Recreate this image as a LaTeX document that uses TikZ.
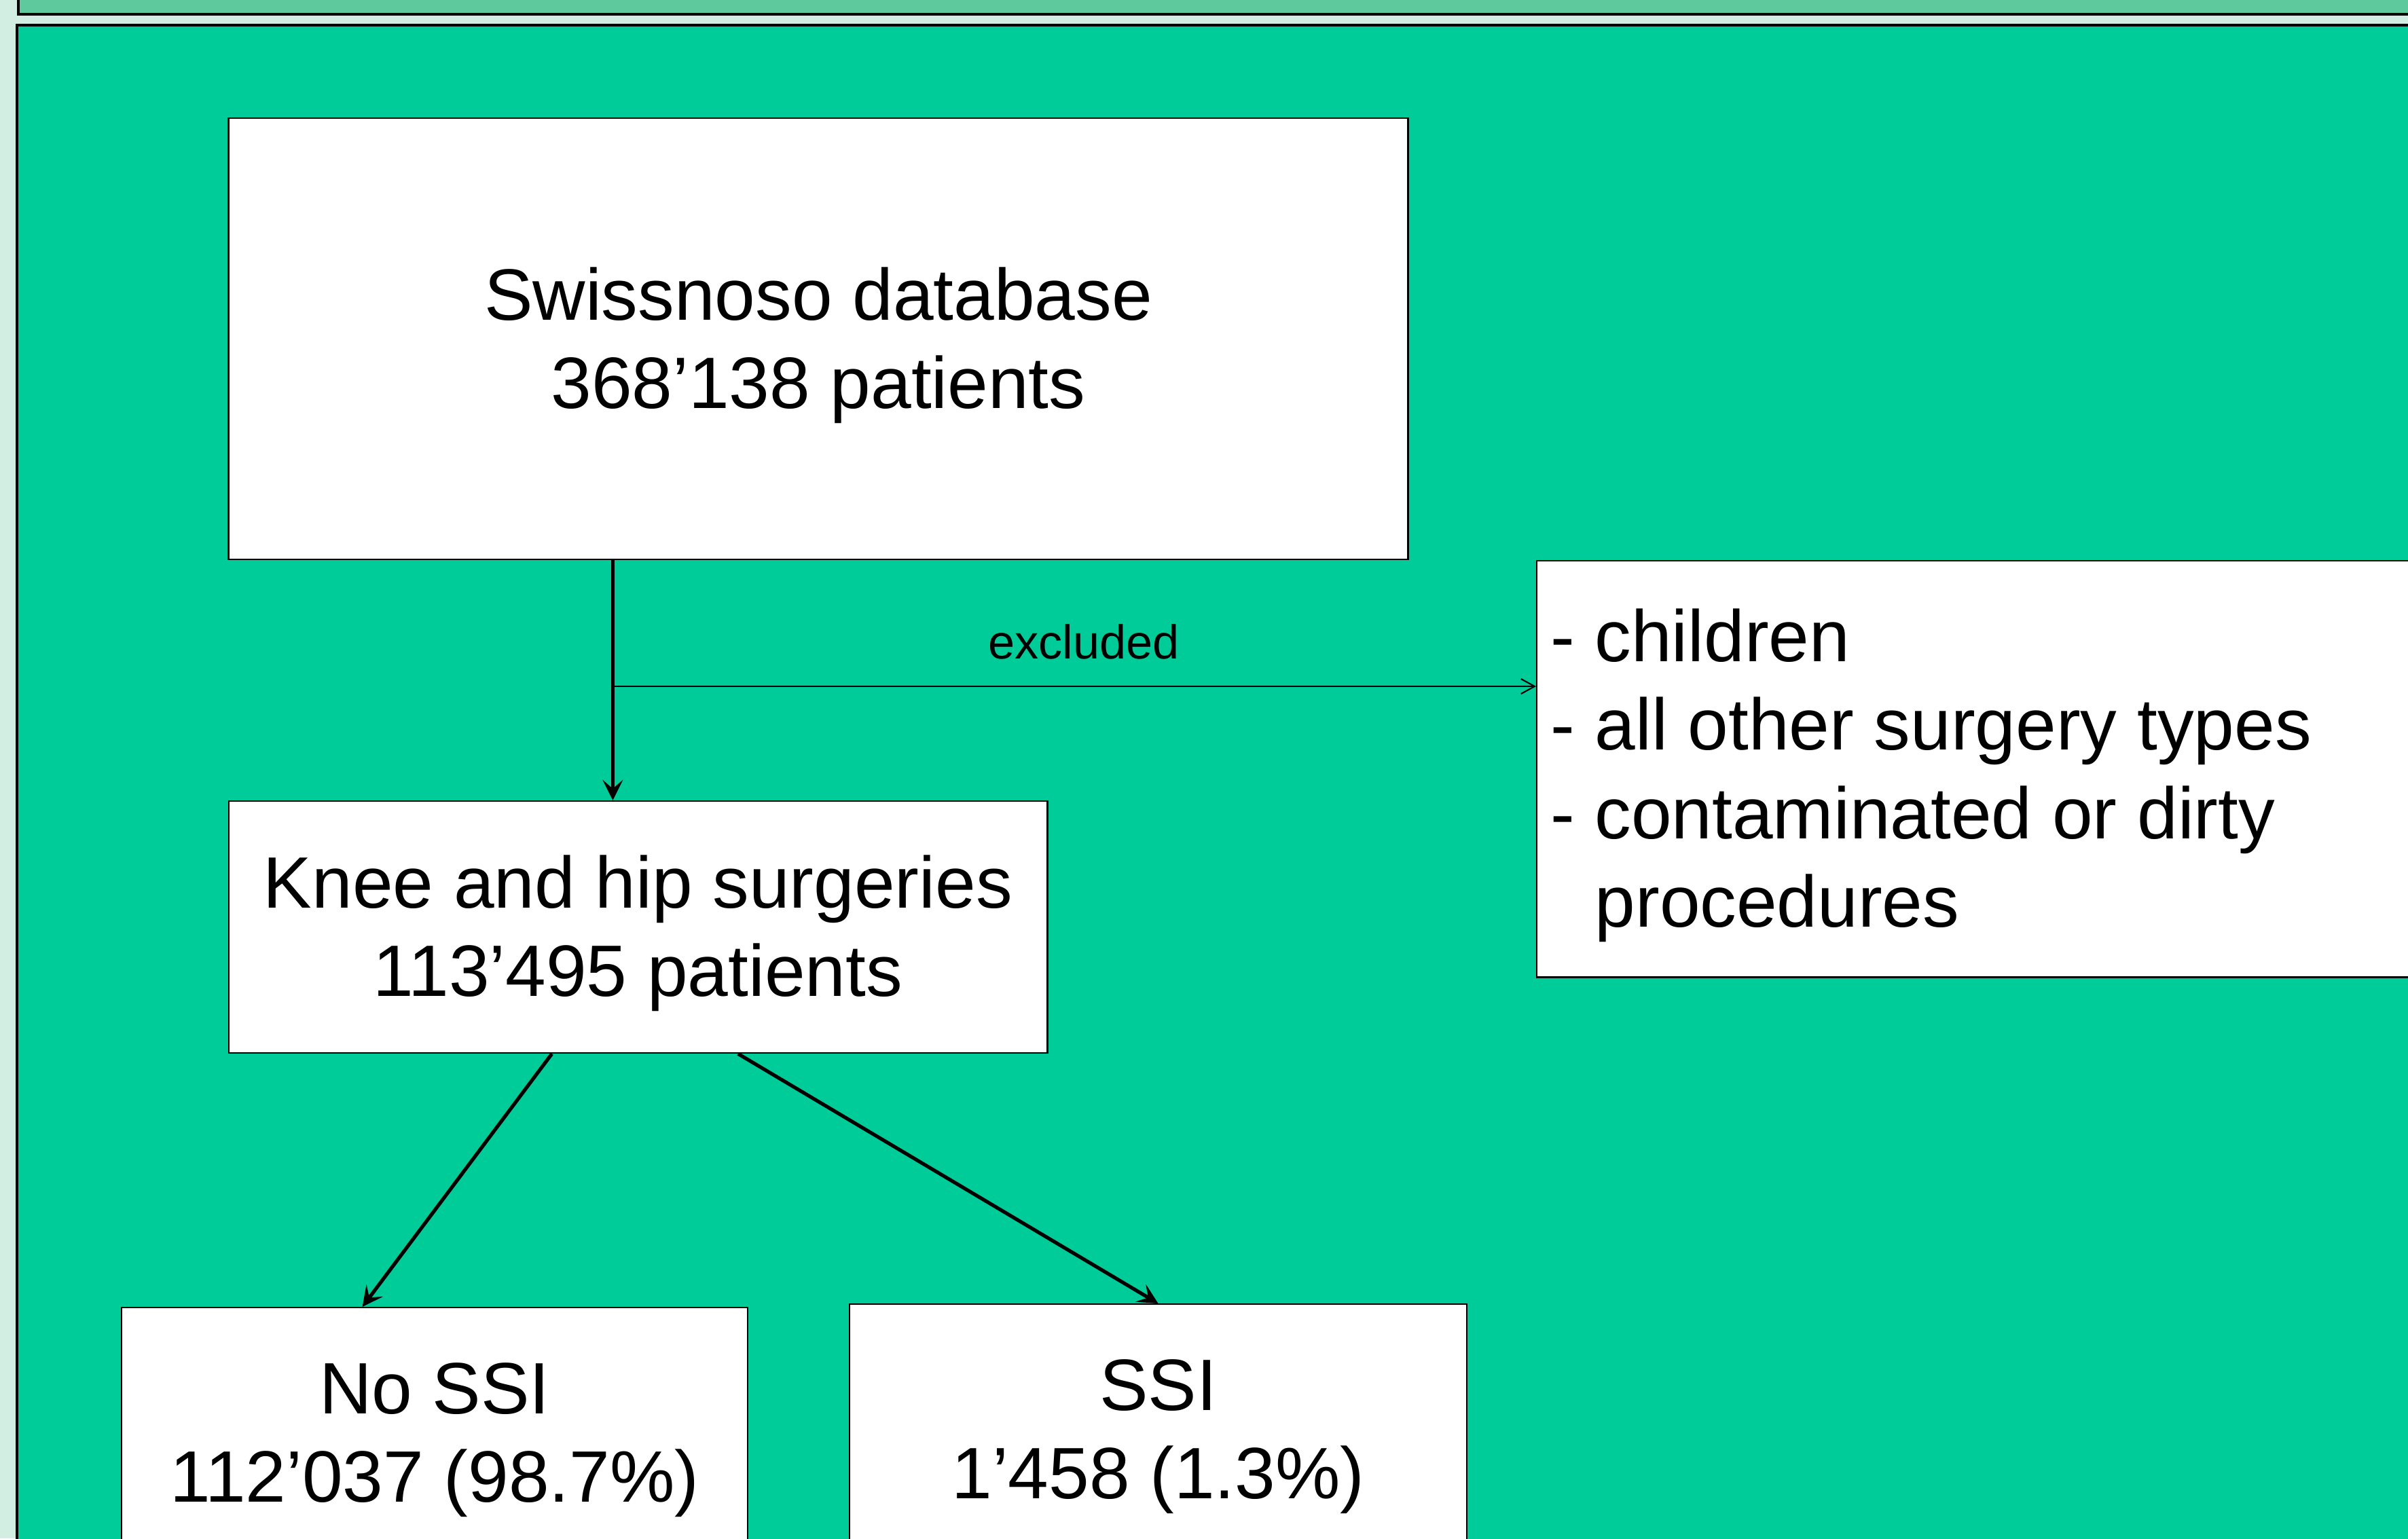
\documentclass[tikz,border=0pt]{standalone}
\usepackage{fontspec}
\setmainfont{Liberation Sans}
\usepackage{tikz}
\usetikzlibrary{arrows.meta,calc}

\definecolor{panelgreen}{RGB}{0,204,153}
\definecolor{stripgreen}{RGB}{95,201,158}
\definecolor{palegreen}{RGB}{210,237,226}
\newcommand{\boxstrut}{\rule[-0.212em]{0pt}{1.117em}}

\begin{document}
\begin{tikzpicture}[
  x=0.01cm, y=-0.01cm,
  box/.style={rectangle, draw, fill=white, line width=0.65pt,
              font=\fontsize{30.5}{37}\selectfont, align=center, inner sep=0pt},
  arrow/.style={-{Stealth[length=3mm, width=3mm, inset=1.3mm]}, line width=1.5pt},
  exarrow/.style={-{Straight Barb[length=2mm, width=2.2mm]}, line width=0.6pt},
  note/.style={font=\fontsize{20}{24}\selectfont, inner sep=0pt}
]
  \clip (0,0) rectangle (3546,2266);
  \fill[palegreen] (0,0) rectangle (3546,2266);
  \filldraw[fill=stripgreen, line width=0.9pt] (27,-60) rectangle (3620,21);
  \filldraw[fill=panelgreen, line width=0.9pt] (25,37) rectangle (3620,2340);

  \node[box, minimum width=17.36cm, minimum height=6.5cm] (db) at (1205,499)
    {\boxstrut Swissnoso database\\368’138 patients\boxstrut};
  \node[box, minimum width=12.05cm, minimum height=3.71cm] (knee) at (939.5,1365.5)
    {\boxstrut Knee and hip surgeries\\113’495 patients\boxstrut};
  \node[box, anchor=north west, align=flush left, text width=13cm, inner xsep=2mm,
        minimum height=6.13cm] (excl) at (2262,825)
    {\boxstrut- children\\- all other surgery types\\- contaminated or dirty\\\hphantom{- }procedures\boxstrut};

  \node[box, anchor=north, minimum width=9.22cm, minimum height=3.68cm] (nossi) at (640,1925)
    {\boxstrut No SSI\\112’037 (98.7\%)\boxstrut};
  \node[box, anchor=north, minimum width=9.09cm, minimum height=3.68cm] (ssi) at (1705.5,1920)
    {\boxstrut SSI\\1’458 (1.3\%)\boxstrut};

  % Arrows
  \coordinate (split) at ($(db.south west)!0.326!(db.south east)$);
  \coordinate (branch) at (903,1011);
  \draw[arrow] (split) -- (split |- knee.north);
  \draw[exarrow] (branch) -- node[above=3.9mm, note, pos=0.51]{excluded} (branch -| excl.west);

  \draw[arrow] ($(knee.south west)!0.395!(knee.south east)$) -- ($(nossi.north west)!0.385!(nossi.north east)$);
  \draw[arrow] ($(knee.south west)!0.622!(knee.south east)$) -- (ssi.north);
\end{tikzpicture}
\end{document}
